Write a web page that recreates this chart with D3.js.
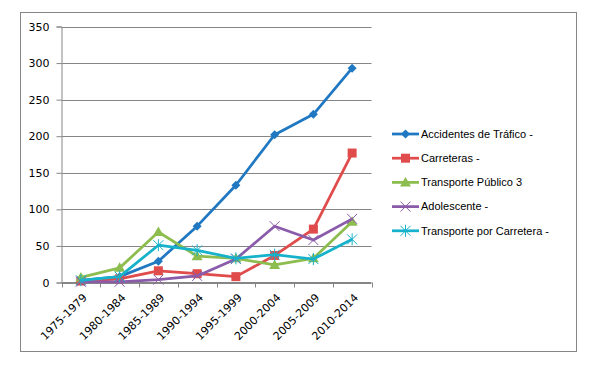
<!DOCTYPE html>
<html><head><meta charset="utf-8">
<script src="https://cdn.jsdelivr.net/npm/d3@7"></script>
<style>body{margin:0;background:#fff;}svg{display:block;font-family:"Liberation Sans",Arial,sans-serif;}</style>
</head><body>
<svg id="c" width="598" height="368"></svg>
<script>
const categories = ["1975-1979","1980-1984","1985-1989","1990-1994","1995-1999","2000-2004","2005-2009","2010-2014"];
const accidentes = [3, 8, 29, 77, 133, 202, 230, 293];
const carreteras = [2, 5, 16, 12, 8, 37, 73, 177];
const transportePublico = [7, 20, 69, 36, 33, 24, 33, 83];
const adolescente = [1, 1, 4, 9, 32, 77, 58, 87];
const transporteCarretera = [3, 8, 51, 44, 33, 38, 32, 59];
const yTicks = [0, 50, 100, 150, 200, 250, 300, 350];

const series = [
  {name:"Accidentes de Tráfico -", values:accidentes, color:"#1f78c1", marker:"diamond"},
  {name:"Carreteras -", values:carreteras, color:"#e04b4b", marker:"square"},
  {name:"Transporte Público 3", values:transportePublico, color:"#8dbd4f", marker:"triangle"},
  {name:"Adolescente -", values:adolescente, color:"#8a5ba9", marker:"x"},
  {name:"Transporte por Carretera -", values:transporteCarretera, color:"#16b2cb", marker:"star"}
];

const axisFont = "'DejaVu Sans',Verdana,sans-serif";
const svg = d3.select("#c");
svg.append("rect").attr("x",20.5).attr("y",12.5).attr("width",556).attr("height",339)
  .attr("fill","#fff").attr("stroke","#868686").attr("stroke-width",1);

const pLeft = 61.5, pRight = 371.5, pTop = 26.5, pBottom = 282.5;
const x = d3.scaleBand().domain(categories).range([pLeft, pRight]);
const y = d3.scaleLinear().domain([0, 350]).range([pBottom, pTop]);

// gridlines
svg.append("g").selectAll("line").data(yTicks).join("line")
  .attr("x1", pLeft).attr("x2", pRight)
  .attr("y1", d => Math.round(y(d)) + 0.5).attr("y2", d => Math.round(y(d)) + 0.5)
  .attr("stroke", "#868686").attr("stroke-width", 1);

// y axis
const yAxis = svg.append("g").attr("transform", `translate(${pLeft},0)`)
  .call(d3.axisLeft(y).tickValues(yTicks).tickSize(5).tickPadding(7));
yAxis.select(".domain").attr("stroke","#868686");
yAxis.selectAll(".tick line").attr("stroke","#868686");
yAxis.selectAll("text").attr("font-size","11px").attr("fill","#000")
  .attr("font-family", axisFont);

// x axis with ticks at band boundaries
const xg = svg.append("g");
xg.append("line").attr("x1", pLeft).attr("x2", pRight).attr("y1", pBottom).attr("y2", pBottom).attr("stroke","#868686");
const bounds = categories.map(c => x(c)).concat([x(categories[categories.length-1]) + x.bandwidth()]);
xg.selectAll("line.t").data(bounds).join("line").attr("class","t")
  .attr("x1", d => Math.round(d)+0.5).attr("x2", d => Math.round(d)+0.5)
  .attr("y1", pBottom).attr("y2", pBottom + 5).attr("stroke","#868686");
xg.selectAll("text").data(categories).join("text")
  .attr("transform", d => `translate(${x(d) + x.bandwidth()/2 + 4},${pBottom + 13}) rotate(-45)`)
  .attr("text-anchor","end").attr("font-size","11px").attr("fill","#000")
  .attr("font-family", axisFont)
  .attr("dy","0.35em")
  .text(d => d);

const cx = c => x(c) + x.bandwidth()/2;

function drawMarker(g, type, color, px, py) {
  if (type === "diamond") {
    const s = 4.5;
    g.append("path").attr("d", `M${px},${py-s}L${px+s},${py}L${px},${py+s}L${px-s},${py}Z`).attr("fill", color);
  } else if (type === "square") {
    g.append("rect").attr("x", px-4.5).attr("y", py-4.5).attr("width", 9).attr("height", 9).attr("fill", color);
  } else if (type === "triangle") {
    g.append("path").attr("d", `M${px},${py-5.5}L${px+5.5},${py+4}L${px-5.5},${py+4}Z`).attr("fill", color);
  } else if (type === "x") {
    const s = 5;
    g.append("path").attr("d", `M${px-s},${py-s}L${px+s},${py+s}M${px-s},${py+s}L${px+s},${py-s}`)
      .attr("stroke", color).attr("stroke-width", 1).attr("fill","none");
  } else if (type === "star") {
    const s = 5;
    g.append("path").attr("d", `M${px-s},${py-s}L${px+s},${py+s}M${px-s},${py+s}L${px+s},${py-s}M${px},${py-s-1}L${px},${py+s+1}`)
      .attr("stroke", color).attr("stroke-width", 1).attr("fill","none");
  }
}

const line = d3.line().x((d,i) => cx(categories[i])).y(d => y(d));
series.forEach(s => {
  const g = svg.append("g");
  g.append("path").datum(s.values).attr("d", line).attr("fill","none")
    .attr("stroke", s.color).attr("stroke-width", 2.75).attr("stroke-linejoin","round");
  s.values.forEach((v,i) => drawMarker(g, s.marker, s.color, cx(categories[i]), y(v)));
});

// legend
const lg = svg.append("g");
series.forEach((s, i) => {
  const ly = 134 + i * 24.2;
  const g = lg.append("g");
  g.append("line").attr("x1", 392).attr("x2", 419).attr("y1", ly).attr("y2", ly)
    .attr("stroke", s.color).attr("stroke-width", 2.75);
  drawMarker(g, s.marker, s.color, 405.5, ly);
  g.append("text").attr("x", 421).attr("y", ly).attr("dy","0.35em")
    .attr("font-size","11px").attr("fill","#000").text(s.name);
});
</script>
</body></html>
